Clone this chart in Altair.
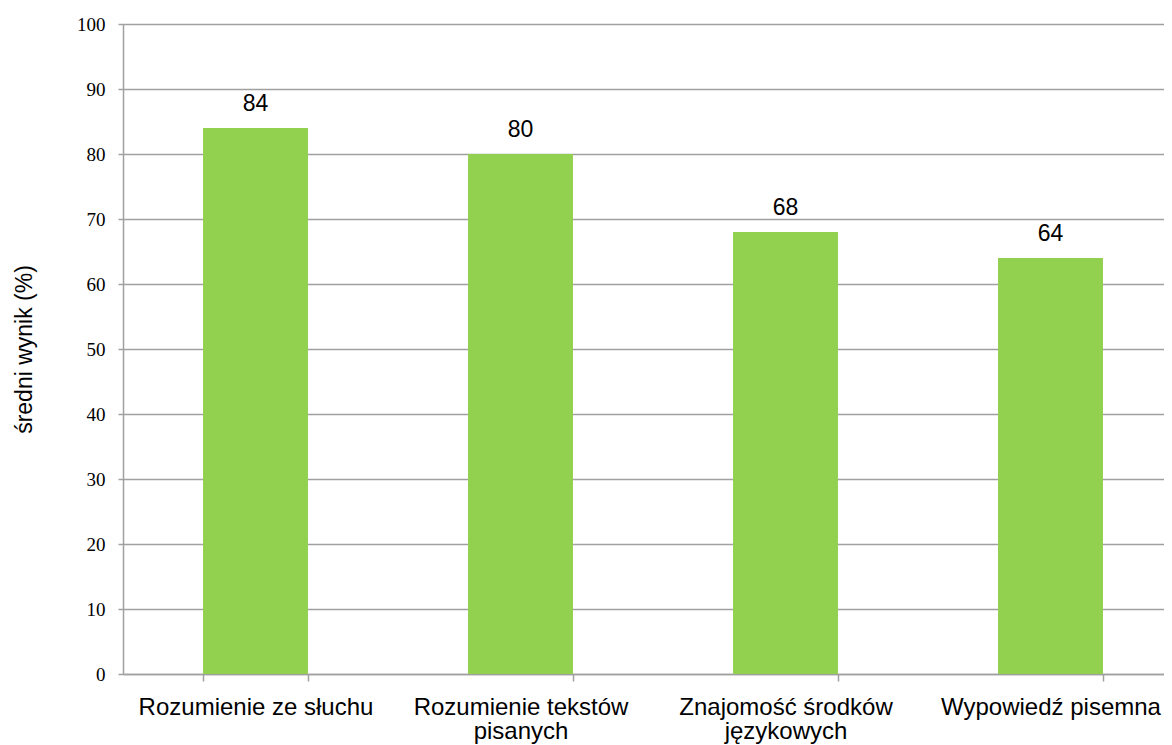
import altair as alt
import pandas as pd

categories = ["Rozumienie ze słuchu", "Rozumienie tekstów\npisanych",
              "Znajomość środków\njęzykowych", "Wypowiedź pisemna"]
values = [84, 80, 68, 64]
y_ticks = [0, 10, 20, 30, 40, 50, 60, 70, 80, 90, 100]

df = pd.DataFrame({"kat": categories, "wynik": values})

GRID = "#A0A0A0"

x_enc = alt.X("kat:N", sort=categories, title=None,
              scale=alt.Scale(range=[0, 1060], paddingInner=0.604, paddingOuter=0.302),
              axis=alt.Axis(labelAngle=0, labelFont="Liberation Sans", labelFontSize=24,
                            labelColor="black", labelLineHeight=24, labelLimit=0,
                            labelExpr="split(datum.label, '\\n')",
                            tickBand="extent", tickSize=7, tickColor=GRID, tickWidth=1.5,
                            domainColor=GRID, domainWidth=1.5, labelPadding=14,
                            grid=False))
y_enc = alt.Y("wynik:Q", scale=alt.Scale(domain=[0, 100], nice=False),
              axis=alt.Axis(values=y_ticks, title="średni wynik (%)",
                            labelFont="Liberation Serif", labelFontSize=19,
                            labelColor="black", labelPadding=13,
                            tickSize=5, tickColor=GRID, tickWidth=1.5,
                            domainColor=GRID, domainWidth=1.5,
                            grid=True, gridColor=GRID, gridWidth=1.5,
                            titleFont="Liberation Sans", titleFontSize=23,
                            titleFontWeight="normal", titleColor="black",
                            titleAngle=-90, titleX=-99, titleY=325,
                            titleAlign="center", titleBaseline="middle"))

bars = alt.Chart(df).mark_bar(color="#92D050").encode(x=x_enc, y=y_enc)
labels = alt.Chart(df).mark_text(font="Liberation Sans", fontSize=23, color="black",
                                 baseline="alphabetic", dy=-17).encode(
    x=alt.X("kat:N", sort=categories), y="wynik:Q", text="wynik:Q")

chart = alt.layer(bars, labels).properties(
    width=1041, height=650,
    autosize=alt.AutoSizeParams(type="none"),
    padding={"left": 115, "top": 16, "right": 0, "bottom": 72},
).configure_view(stroke=None).configure(background="white")

chart.save("out.html", embed_options={"renderer": "svg", "actions": False})
